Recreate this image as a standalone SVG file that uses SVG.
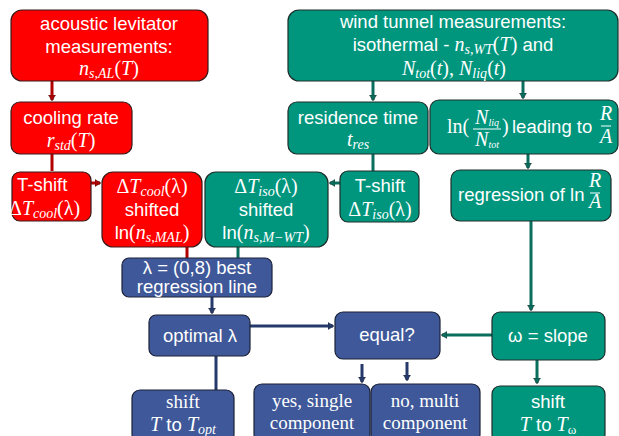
<svg xmlns="http://www.w3.org/2000/svg" width="619" height="436" viewBox="0 0 619 436">
<defs>
<style>
.r{fill:#FF0000;stroke:#3a1a1a;stroke-width:1.2}
.g{fill:#00967E;stroke:#1e2e2a;stroke-width:1.2}
.b{fill:#3E5899;stroke:#1c2238;stroke-width:1.2}
.t{font-family:"Liberation Sans",Arial,sans-serif;font-size:18.5px;fill:#fff;text-anchor:middle}
.m{font-family:"Liberation Serif","Times New Roman",serif;font-style:italic;font-size:20px;fill:#fff;text-anchor:middle}
.s{font-family:"Liberation Serif","Times New Roman",serif;font-size:19px;fill:#fff;text-anchor:middle}
.n{font-style:normal}
.ms{font-family:"Liberation Serif","Times New Roman",serif;font-style:italic;font-size:20px}
.ss{font-family:"Liberation Serif","Times New Roman",serif;font-style:italic;font-size:14px}
.sn{font-family:"Liberation Serif","Times New Roman",serif;font-size:20px}
.ar{stroke:#B00000;stroke-width:3;fill:none}
.ag{stroke:#0A6E5E;stroke-width:3;fill:none}
.ab{stroke:#253A6B;stroke-width:3;fill:none}
</style>
<marker id="hr" markerWidth="8" markerHeight="8" refX="5" refY="4" orient="auto" markerUnits="userSpaceOnUse"><path d="M0,0.5 L6,4 L0,7.5 z" fill="#B00000" stroke="#3a1a1a" stroke-width="0.5"/></marker>
<marker id="hg" markerWidth="8" markerHeight="8" refX="5" refY="4" orient="auto" markerUnits="userSpaceOnUse"><path d="M0,0.5 L6,4 L0,7.5 z" fill="#0A6E5E" stroke="#1e2e2a" stroke-width="0.5"/></marker>
<marker id="hb" markerWidth="8" markerHeight="8" refX="5" refY="4" orient="auto" markerUnits="userSpaceOnUse"><path d="M0,0.5 L6,4 L0,7.5 z" fill="#253A6B" stroke="#1c2238" stroke-width="0.5"/></marker>
</defs>
<rect width="619" height="436" fill="#fff"/>

<g id="connectors">
<line class="ar" x1="52" y1="81" x2="52" y2="100" marker-end="url(#hr)"/>
<line class="ar" x1="52" y1="154" x2="52" y2="171"/>
<line class="ar" x1="91" y1="183" x2="100" y2="183" marker-end="url(#hr)"/>
<line class="ar" x1="187" y1="247" x2="187" y2="258"/>
<line class="ag" x1="238" y1="247" x2="238" y2="258"/>
<line class="ag" x1="373" y1="81" x2="373" y2="100" marker-end="url(#hg)"/>
<line class="ag" x1="523" y1="81" x2="523" y2="98" marker-end="url(#hg)"/>
<line class="ag" x1="373" y1="154" x2="373" y2="171"/>
<line class="ag" x1="340" y1="183" x2="330" y2="183" marker-end="url(#hg)"/>
<line class="ag" x1="528" y1="154" x2="528" y2="168" marker-end="url(#hg)"/>
<line class="ag" x1="531" y1="221" x2="531" y2="310" marker-end="url(#hg)"/>
<line class="ag" x1="492" y1="335" x2="442" y2="335" marker-end="url(#hg)"/>
<line class="ag" x1="537" y1="360" x2="537" y2="383" marker-end="url(#hg)"/>
<line class="ab" x1="212" y1="297" x2="212" y2="313" marker-end="url(#hb)"/>
<line class="ab" x1="250" y1="326" x2="333" y2="326" marker-end="url(#hb)"/>
<line class="ab" x1="216" y1="356" x2="216" y2="390"/>
<line class="ab" x1="362" y1="364" x2="362" y2="382" marker-end="url(#hb)"/>
<line class="ab" x1="407" y1="362" x2="407" y2="380" marker-end="url(#hb)"/>
</g>

<g id="n_al">
<rect class="r" x="11" y="10" width="197" height="71" rx="11"/>
<text class="t" x="109" y="30">acoustic levitator</text>
<text class="t" x="109" y="53">measurements:</text>
<text class="m" x="109" y="75">n<tspan font-size="14" dy="3">s,AL</tspan><tspan class="n" dy="-3">(</tspan>T<tspan class="n">)</tspan></text>
</g>

<g id="n_cool">
<rect class="r" x="11" y="102" width="121" height="52" rx="9"/>
<text class="t" x="71" y="124">cooling rate</text>
<text class="m" x="71" y="147">r<tspan font-size="14" dy="3">std</tspan><tspan class="n" dy="-3">(</tspan>T<tspan class="n">)</tspan></text>
</g>

<g id="n_tshift_cool">
<rect class="r" x="12" y="172" width="79" height="49" rx="8"/>
<text class="t" x="17" y="191" style="text-anchor:start">T-shift</text>
<text class="m" x="9" y="215" style="text-anchor:start"><tspan class="n">Δ</tspan>T<tspan font-size="14" dy="3">cool</tspan><tspan class="n" dy="-3">(λ)</tspan></text>
</g>

<g id="n_cool_shifted">
<rect class="r" x="102" y="172" width="100" height="75" rx="11"/>
<text class="m" x="152" y="193"><tspan class="n">Δ</tspan>T<tspan font-size="14" dy="3">cool</tspan><tspan class="n" dy="-3">(λ)</tspan></text>
<text class="t" x="152" y="216">shifted</text>
<text class="t" x="152" y="239">ln<tspan class="sn">(</tspan><tspan class="ms">n</tspan><tspan class="ss" font-size="13" dy="3">s,MAL</tspan><tspan class="sn" dy="-3">)</tspan></text>
</g>

<g id="n_iso_shifted">
<rect class="g" x="205" y="172" width="123" height="75" rx="11"/>
<text class="m" x="266" y="193"><tspan class="n">Δ</tspan>T<tspan font-size="14" dy="3">iso</tspan><tspan class="n" dy="-3">(λ)</tspan></text>
<text class="t" x="266" y="216">shifted</text>
<text class="t" x="266" y="239">ln<tspan class="sn">(</tspan><tspan class="ms">n</tspan><tspan class="ss" dy="3">s,M−WT</tspan><tspan class="sn" dy="-3">)</tspan></text>
</g>

<g id="n_tshift_iso">
<rect class="g" x="340" y="171" width="79" height="51" rx="8"/>
<text class="t" x="380" y="192">T-shift</text>
<text class="m" x="380" y="216"><tspan class="n">Δ</tspan>T<tspan font-size="14" dy="3">iso</tspan><tspan class="n" dy="-3">(λ)</tspan></text>
</g>

<g id="n_regression">
<rect class="g" x="451" y="170" width="160" height="51" rx="9"/>
<text class="t" x="458" y="201" style="text-anchor:start">regression of ln</text>
<text class="m" x="595" y="187" font-size="12">R</text>
<line x1="590" y1="193" x2="600" y2="193" stroke="#fff" stroke-width="1"/>
<text class="m" x="595" y="208" font-size="12">A</text>
</g>

<g id="n_lambda">
<rect class="b" x="122" y="258" width="150" height="39" rx="7"/>
<text class="t" x="197" y="274">λ = (0,8) best</text>
<text class="t" x="197" y="293">regression line</text>
</g>

<g id="n_wind">
<rect class="g" x="288" y="10" width="330" height="71" rx="11"/>
<text class="t" x="453" y="28">wind tunnel measurements:</text>
<text class="t" x="453" y="51">isothermal - <tspan class="ms">n</tspan><tspan class="ss" dy="3">s,WT</tspan><tspan class="sn" dy="-3">(</tspan><tspan class="ms">T</tspan><tspan class="sn">)</tspan> and</text>
<text class="m" x="454" y="75">N<tspan font-size="14" dy="3">tot</tspan><tspan class="n" dy="-3">(</tspan>t<tspan class="n">), </tspan>N<tspan font-size="14" dy="3">liq</tspan><tspan class="n" dy="-3">(</tspan>t<tspan class="n">)</tspan></text>
</g>

<g id="n_residence">
<rect class="g" x="288" y="102" width="140" height="52" rx="9"/>
<text class="t" x="358" y="124">residence time</text>
<text class="m" x="358" y="146">t<tspan font-size="14" dy="3">res</tspan></text>
</g>

<g id="n_ln">
<rect class="g" x="430" y="100" width="188" height="54" rx="9"/>
<text class="s" x="447" y="133" style="text-anchor:start;font-size:20px">ln(</text>
<text class="m" x="487" y="124" font-size="14">N<tspan font-size="10" dy="2">liq</tspan></text>
<line x1="473" y1="129" x2="501" y2="129" stroke="#fff" stroke-width="1"/>
<text class="m" x="487" y="146" font-size="14">N<tspan font-size="10" dy="2">tot</tspan></text>
<text class="s" x="502" y="133" style="text-anchor:start;font-size:20px">)</text>
<text class="t" x="512" y="133" style="text-anchor:start">leading to</text>
<text class="m" x="606" y="120" font-size="13">R</text>
<line x1="601" y1="126" x2="611" y2="126" stroke="#fff" stroke-width="1"/>
<text class="m" x="606" y="143" font-size="13">A</text>
</g>

<g id="n_optimal">
<rect class="b" x="149" y="315" width="101" height="41" rx="7"/>
<text class="t" x="200" y="342">optimal  λ</text>
</g>

<g id="n_equal">
<rect class="b" x="335" y="312" width="105" height="47" rx="8"/>
<text class="t" x="387" y="341">equal?</text>
</g>

<g id="n_omega">
<rect class="g" x="492" y="312" width="113" height="48" rx="8"/>
<text class="t" x="548" y="342">ω = slope</text>
</g>

<g id="n_shift_opt">
<rect class="b" x="132" y="390" width="102" height="52" rx="8"/>
<text class="s" x="183" y="408">shift</text>
<text class="t" x="183" y="431"><tspan class="ms">T</tspan> to <tspan class="ms">T</tspan><tspan class="ss" dy="3">opt</tspan></text>
</g>

<g id="n_yes">
<rect class="b" x="254" y="384" width="116" height="58" rx="8"/>
<text class="s" x="312" y="407">yes, single</text>
<text class="s" x="312" y="429">component</text>
</g>

<g id="n_no">
<rect class="b" x="371" y="384" width="109" height="58" rx="8"/>
<text class="s" x="425" y="407">no, multi</text>
<text class="s" x="425" y="429">component</text>
</g>

<g id="n_shift_omega">
<rect class="g" x="492" y="386" width="113" height="56" rx="8"/>
<text class="t" x="548" y="408">shift</text>
<text class="t" x="548" y="431"><tspan class="ms">T</tspan> to <tspan class="ms">T</tspan><tspan class="sn" style="font-size:13px" dy="3">ω</tspan></text>
</g>
</svg>
